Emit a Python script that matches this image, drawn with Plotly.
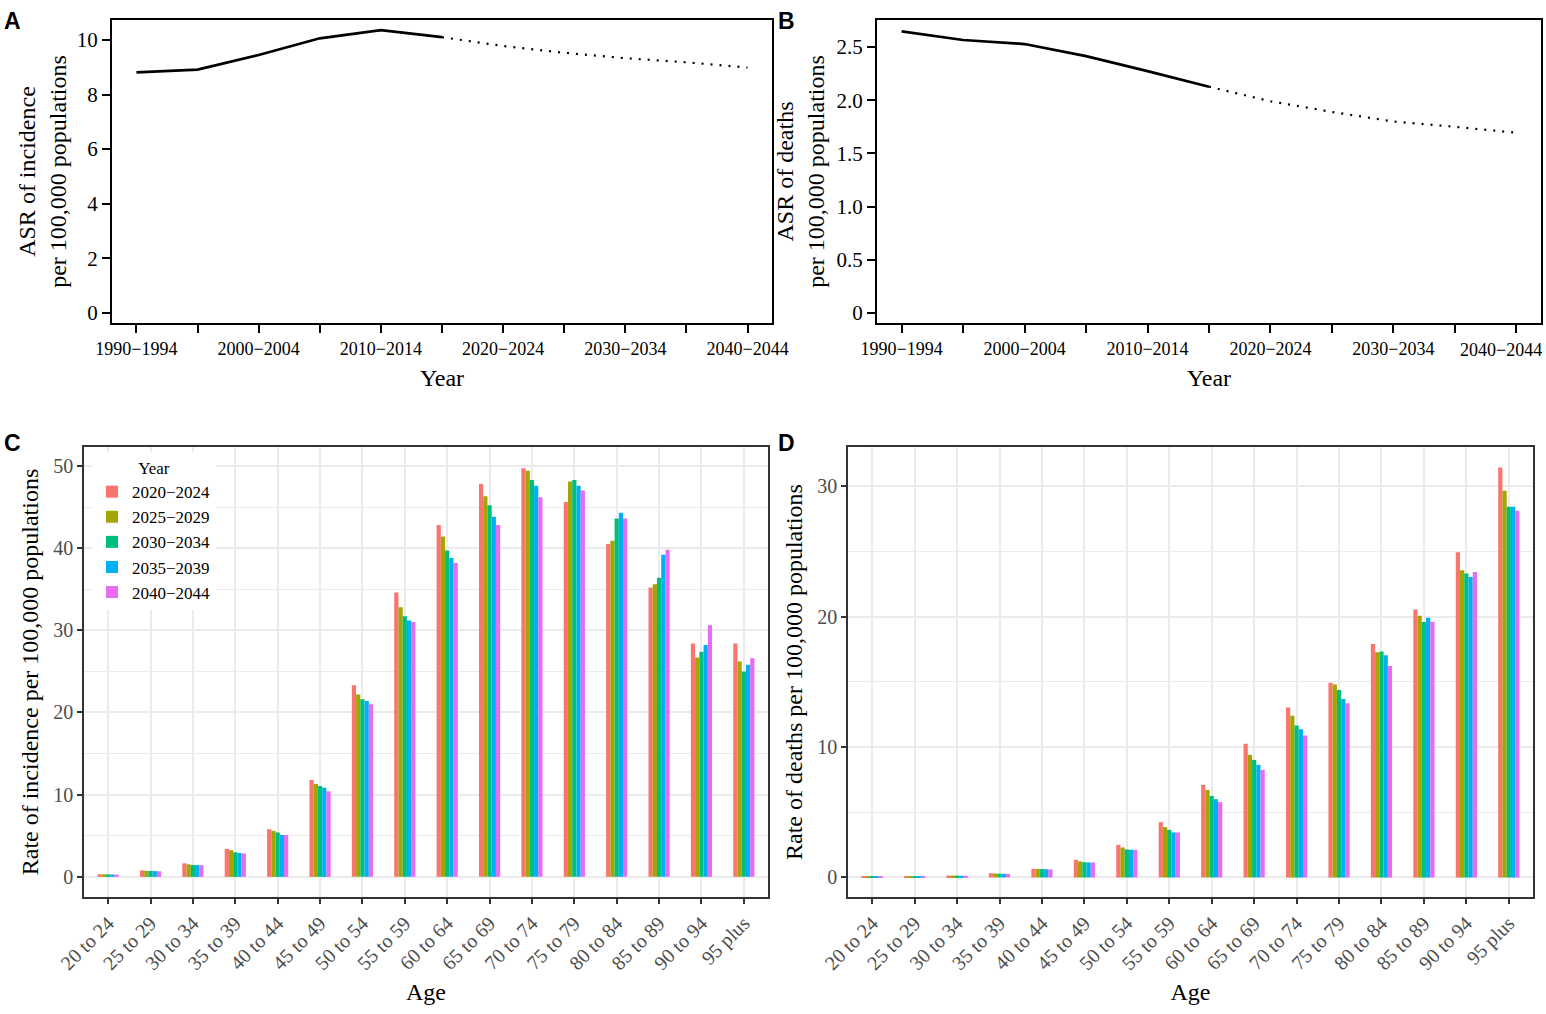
import plotly.graph_objects as go

# ---------------- data ----------------
periods = ["1990−1994", "1995−1999", "2000−2004", "2005−2009", "2010−2014", "2015−2019",
           "2020−2024", "2025−2029", "2030−2034", "2035−2039", "2040−2044"]
period_ticktext = ["1990−1994", "", "2000−2004", "", "2010−2014", "",
                   "2020−2024", "", "2030−2034", "", "2040−2044"]
obs_periods = periods[:6]
pred_periods = periods[5:]

asr_inc_obs = [8.81, 8.91, 9.45, 10.06, 10.36, 10.10]
asr_inc_pred = [10.10, 9.78, 9.53, 9.33, 9.18, 8.99]
asr_death_obs = [2.647, 2.566, 2.528, 2.415, 2.274, 2.127]
asr_death_pred = [2.127, 1.99, 1.89, 1.80, 1.75, 1.694]

ages = ["20 to 24", "25 to 29", "30 to 34", "35 to 39", "40 to 44", "45 to 49", "50 to 54",
        "55 to 59", "60 to 64", "65 to 69", "70 to 74", "75 to 79", "80 to 84", "85 to 89",
        "90 to 94", "95 plus"]
proj_years = ["2020−2024", "2025−2029", "2030−2034", "2035−2039", "2040−2044"]
year_colors = ["#F8766D", "#A3A500", "#00BF7D", "#00B0F6", "#E76BF3"]

inc_2020 = [0.32, 0.78, 1.65, 3.40, 5.80, 11.8, 23.3, 34.6, 42.8, 47.8, 49.7, 45.6, 40.5, 35.2, 28.4, 28.4]
inc_2025 = [0.31, 0.74, 1.52, 3.25, 5.60, 11.3, 22.2, 32.8, 41.4, 46.3, 49.4, 48.1, 40.9, 35.6, 26.7, 26.2]
inc_2030 = [0.30, 0.72, 1.45, 3.00, 5.40, 11.05, 21.6, 31.7, 39.7, 45.2, 48.3, 48.3, 43.6, 36.4, 27.4, 25.0]
inc_2035 = [0.29, 0.70, 1.43, 2.90, 5.10, 10.85, 21.4, 31.2, 38.8, 43.8, 47.6, 47.6, 44.3, 39.2, 28.2, 25.8]
inc_2040 = [0.28, 0.68, 1.42, 2.85, 5.10, 10.4, 21.0, 31.0, 38.2, 42.8, 46.2, 47.0, 43.6, 39.8, 30.6, 26.6]
incidence = [inc_2020, inc_2025, inc_2030, inc_2035, inc_2040]

dth_2020 = [0.06, 0.10, 0.15, 0.32, 0.66, 1.35, 2.50, 4.24, 7.10, 10.24, 13.02, 14.93, 17.90, 20.55, 24.94, 31.43]
dth_2025 = [0.05, 0.09, 0.14, 0.30, 0.65, 1.23, 2.30, 3.86, 6.71, 9.40, 12.40, 14.80, 17.26, 20.07, 23.56, 29.64]
dth_2030 = [0.05, 0.09, 0.14, 0.29, 0.64, 1.17, 2.15, 3.65, 6.25, 9.00, 11.64, 14.37, 17.33, 19.58, 23.31, 28.41]
dth_2035 = [0.05, 0.08, 0.13, 0.28, 0.63, 1.15, 2.12, 3.45, 6.00, 8.63, 11.36, 13.68, 17.03, 19.91, 23.03, 28.41]
dth_2040 = [0.05, 0.08, 0.13, 0.27, 0.62, 1.15, 2.12, 3.45, 5.77, 8.25, 10.88, 13.35, 16.21, 19.61, 23.41, 28.11]
deaths = [dth_2020, dth_2025, dth_2030, dth_2035, dth_2040]

# ---------------- layout helpers ----------------
W, H = 1546, 1014
SERIF = "Liberation Serif"
SANS = "Liberation Sans"
XTICK_SIZE = 18


def xd(a, b):
    return [a / W, b / W]


def yd(top, bottom):
    return [1 - bottom / H, 1 - top / H]


fig = go.Figure()

solid = dict(color="black", width=2.7)
dotted = dict(color="black", width=2.2, dash="2px,7px")

# Panel A
fig.add_trace(go.Scatter(x=obs_periods, y=asr_inc_obs, mode="lines", xaxis="x", yaxis="y",
                         line=solid, showlegend=False))
fig.add_trace(go.Scatter(x=pred_periods, y=asr_inc_pred, mode="lines", xaxis="x", yaxis="y",
                         line=dotted, showlegend=False))
# Panel B
fig.add_trace(go.Scatter(x=obs_periods, y=asr_death_obs, mode="lines", xaxis="x2", yaxis="y2",
                         line=solid, showlegend=False))
fig.add_trace(go.Scatter(x=pred_periods, y=asr_death_pred, mode="lines", xaxis="x2", yaxis="y2",
                         line=dotted, showlegend=False))

# Panel C & D bars
for name, color, vals in zip(proj_years, year_colors, incidence):
    fig.add_trace(go.Bar(x=ages, y=vals, name=name, marker=dict(color=color, line=dict(width=0)),
                         xaxis="x3", yaxis="y3", legendgroup=name, offsetgroup=name))
for name, color, vals in zip(proj_years, year_colors, deaths):
    fig.add_trace(go.Bar(x=ages, y=vals, name=name, marker=dict(color=color, line=dict(width=0)),
                         xaxis="x4", yaxis="y4", legendgroup=name, offsetgroup=name,
                         showlegend=False))

line_axis_common = dict(showline=True, mirror=True, linecolor="black", linewidth=2,
                        ticks="outside", tickcolor="black", tickwidth=2, ticklen=8,
                        showgrid=False, zeroline=False, automargin=False,
                        title_font=dict(family=SERIF, size=24, color="black"))

xtick_font = dict(family=SERIF, size=XTICK_SIZE, color="black")
xcat = dict(type="category", categoryorder="array", categoryarray=periods, range=[-0.4, 10.4],
            tickmode="array", tickvals=periods, tickfont=xtick_font)
ytick_font = dict(family=SERIF, size=21, color="black")

# In panel B the last label is placed by an annotation (nudged left so it is not clipped)
period_ticktext_b = period_ticktext[:-1] + [""]

bar_axis_common = dict(showline=True, mirror=True, linecolor="#333333", linewidth=1.5,
                       ticks="outside", tickcolor="#333333", tickwidth=1.5, ticklen=5,
                       showgrid=True, gridcolor="#ebebeb", gridwidth=1.6,
                       zeroline=False, automargin=False,
                       tickfont=dict(family=SERIF, size=20, color="#4d4d4d"),
                       title_font=dict(family=SERIF, size=24, color="black"))

xage = dict(type="category", categoryorder="array", categoryarray=ages, range=[-0.57, 15.57],
            tickangle=-45)

fig.update_layout(
    width=W, height=H, autosize=False,
    margin=dict(l=0, r=0, t=0, b=0),
    paper_bgcolor="white", plot_bgcolor="white",
    barmode="group", bargap=0.5, bargroupgap=0,
    font=dict(family=SERIF, color="black"),
    xaxis=dict(domain=xd(112, 772), anchor="y", ticktext=period_ticktext, **xcat, **line_axis_common,
               title=dict(text="Year", standoff=12)),
    yaxis=dict(domain=yd(20, 323), anchor="x", range=[-0.37, 10.73], tickmode="array",
               tickvals=[0, 2, 4, 6, 8, 10], tickfont=ytick_font, **line_axis_common,
               title=dict(text="ASR of incidence<br>per 100,000 populations", standoff=3)),
    xaxis2=dict(domain=xd(877, 1541), anchor="y2", ticktext=period_ticktext_b, **xcat, **line_axis_common,
                title=dict(text="Year", standoff=12)),
    yaxis2=dict(domain=yd(20, 323), anchor="x2", range=[-0.094, 2.754], tickmode="array",
                tickvals=[0, 0.5, 1.0, 1.5, 2.0, 2.5], ticktext=["0", "0.5", "1.0", "1.5", "2.0", "2.5"],
                tickfont=ytick_font, **line_axis_common,
                title=dict(text="ASR of deaths<br>per 100,000 populations", standoff=5)),
    xaxis3=dict(domain=xd(84, 768), anchor="y3", **xage, **bar_axis_common,
                title=dict(text="Age", standoff=10)),
    yaxis3=dict(domain=yd(447, 897), anchor="x3", range=[-2.45, 52.3], tickmode="array",
                tickvals=[0, 10, 20, 30, 40, 50],
                minor=dict(tickvals=[5, 15, 25, 35, 45], showgrid=True, gridcolor="#ebebeb",
                           gridwidth=0.8, ticks=""),
                **bar_axis_common,
                title=dict(text="Rate of incidence per 100,000 populations", standoff=8)),
    xaxis4=dict(domain=xd(848, 1533), anchor="y4", **xage, **bar_axis_common,
                title=dict(text="Age", standoff=10)),
    yaxis4=dict(domain=yd(447, 897), anchor="x4", range=[-1.5, 33.0], tickmode="array",
                tickvals=[0, 10, 20, 30],
                minor=dict(tickvals=[5, 15, 25], showgrid=True, gridcolor="#ebebeb",
                           gridwidth=0.8, ticks=""),
                **bar_axis_common,
                title=dict(text="Rate of deaths per 100,000 populations", standoff=8)),
    legend=dict(x=92 / W, y=1 - 452 / H, xanchor="left", yanchor="top",
                bgcolor="white", borderwidth=0, traceorder="normal",
                font=dict(family=SERIF, size=17, color="black"),
                title=dict(text="Year", side="top center", font=dict(family=SERIF, size=17)),
                tracegroupgap=0, itemwidth=30),
)

# last tick label of panel B
fig.add_annotation(text=period_ticktext[-1], x=periods[-1], xref="x2", y=1 - 338 / H, yref="paper",
                   xanchor="center", yanchor="top", xshift=-15, showarrow=False, font=xtick_font)

# panel letters
for letter, px, py in [("A", 2, 6), ("B", 776, 6), ("C", 2, 428), ("D", 776, 428)]:
    fig.add_annotation(text=f"<b>{letter}</b>", x=px / W, y=1 - py / H, xref="paper", yref="paper",
                       xanchor="left", yanchor="top", showarrow=False,
                       font=dict(family=SANS, size=23, color="black"))

fig.write_html("out.html", config={"displayModeBar": False},
               post_script="document.body.style.margin='0';document.body.style.overflow='hidden';")
